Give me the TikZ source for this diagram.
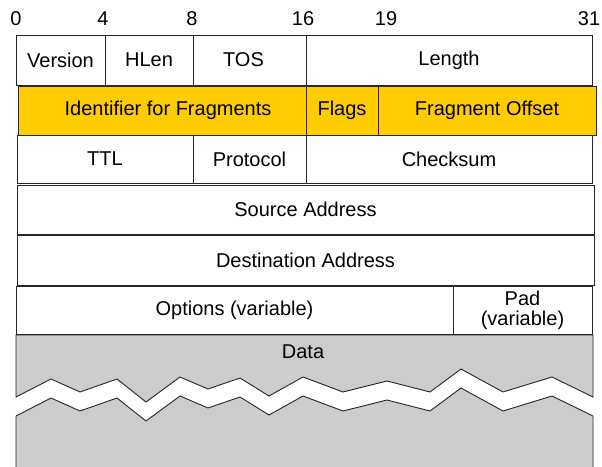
\documentclass[tikz,border=0pt]{standalone}
\usepackage{fontspec}
\setmainfont{Liberation Sans}
\usepackage{tikz}
\definecolor{fraggold}{RGB}{255,204,0}
\definecolor{datagray}{RGB}{204,204,204}

\begin{document}
\begin{tikzpicture}[x=1pt,y=-1pt]
	\tikzstyle{FIELD} = [draw=black!85, line width=0.9pt, inner sep=0pt, align=center, font=\fontsize{20}{20.5}\selectfont]
	\tikzstyle{FRAG} = [FIELD, fill=fraggold]
	\tikzstyle{BIT} = [inner sep=0pt, font=\fontsize{20}{20}\selectfont]
	\tikzstyle{EDGE} = [draw=black!85, line width=0.9pt, fill=datagray]

	\useasboundingbox (0,0) rectangle (602,466);

	% bit positions
	\node[BIT] (B0) at (16,19) {0};
	\node[BIT] (B4) at (103,19) {4};
	\node[BIT] (B8) at (192,19) {8};
	\node[BIT] (B16) at (303,19) {16};
	\node[BIT] (B19) at (386,19) {19};
	\node[BIT] (B31) at (589,19) {31};

	% first word
	\node[FIELD, minimum width=89pt, minimum height=50pt] (VER) at (60.5,60) {Version};
	\node[FIELD, minimum width=88pt, minimum height=50pt] (HLEN) at (149,60) {HLen};
	\node[FIELD, minimum width=113pt, minimum height=50pt] (TOS) at (249.5,60) {\hspace*{-12pt}TOS};
	\node[FIELD, minimum width=286pt, minimum height=50pt] (LEN) at (449,60) {Length};

	% second word
	\node[FRAG, minimum width=288pt, minimum height=49pt] (IDF) at (162,110.5) {\hspace*{12pt}Identifier for Fragments};
	\node[FRAG, minimum width=72pt, minimum height=49pt] (FLG) at (342,110.5) {Flags};
	\node[FRAG, minimum width=218pt, minimum height=49pt] (OFF) at (487,110.5) {Fragment Offset};

	% third word
	\node[FIELD, minimum width=176pt, minimum height=48pt] (TTL) at (105,159) {TTL};
	\node[FIELD, minimum width=113pt, minimum height=48pt] (PROTO) at (249.5,159) {Protocol};
	\node[FIELD, minimum width=286pt, minimum height=48pt] (CHK) at (449,159) {Checksum};

	% addresses
	\node[FIELD, minimum width=577pt, minimum height=49pt] (SRC) at (305.5,209.5) {Source Address};
	\node[FIELD, minimum width=577pt, minimum height=50pt] (DST) at (305.5,260) {Destination Address};

	% options
	\node[FIELD, minimum width=437pt, minimum height=48pt] (OPT) at (234.5,310.5) {Options (variable)};
	\node[FIELD, minimum width=139pt, minimum height=48pt] (PAD) at (522.5,310.5) {Pad\\(variable)};

	% data, torn across
	\filldraw[EDGE] (593,335) -- (16,335) -- (16,397) -- (51,379) -- (80,392) -- (117,379) -- (146,402) -- (180,377) -- (208,389) -- (240,378) -- (269,396) -- (303,377) -- (343,392) -- (387,381) -- (430,392) -- (461,369) -- (503,392) -- (552,377) -- (593,397) -- cycle;
	\filldraw[EDGE] (16,467) -- (16,416) -- (51,398) -- (80,411) -- (117,398) -- (146,421) -- (180,396) -- (208,408) -- (240,397) -- (269,415) -- (303,396) -- (343,411) -- (387,400) -- (430,411) -- (461,388) -- (503,411) -- (552,396) -- (593,416) -- (593,467);
	\node[BIT] (DATA) at (303,352) {Data};
\end{tikzpicture}
\end{document}
